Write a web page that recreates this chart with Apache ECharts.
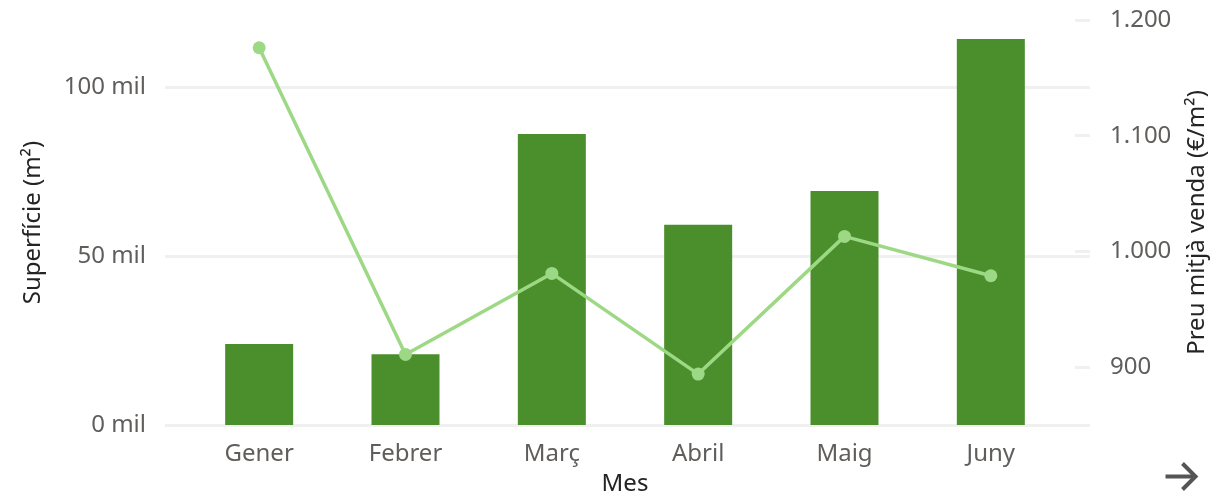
<!DOCTYPE html>
<html>
<head>
<meta charset="utf-8">
<script src="https://cdn.jsdelivr.net/npm/echarts@6/dist/echarts.min.js"></script>
<style>
  html, body { margin: 0; padding: 0; background: #fff; }
  #main { width: 1216px; height: 494px; }
</style>
</head>
<body>
<div id="main"></div>
<script>
// mesos i valors
var months = ['Gener', 'Febrer', 'Març', 'Abril', 'Maig', 'Juny'];
var surface = [24000, 21000, 86200, 59300, 69300, 114400];
var price = [1176, 911, 981, 894, 1013, 979];
var surfaceTicks = [0, 50000, 100000];
var priceTicks = [900, 1000, 1100, 1200];

var FONT = 'Noto Sans';
var LABEL = '#605e5c';
var TITLE = '#252423';
var GRID_LINE = '#f0f0f0';

function thousands(v) {
    return String(v).replace(/\B(?=(\d{3})+(?!\d))/g, '.');
}

var myChart = echarts.init(document.getElementById('main'));
myChart.setOption({
    animation: false,
    textStyle: { fontFamily: FONT },
    grid: [
        // eixos i línies de fons
        { left: 165, right: 126, top: 20, bottom: 69, outerBoundsMode: 'none', containLabel: false },
        // barres i línia
        { left: 186, right: 152, top: 20, bottom: 69, outerBoundsMode: 'none', containLabel: false }
    ],
    xAxis: [
        { type: 'value', gridIndex: 0, show: false, min: 0, max: 1 },
        {
            type: 'category', gridIndex: 1, data: months,
            axisLine: { show: false }, axisTick: { show: false },
            axisLabel: { color: LABEL, fontSize: 24, margin: 17, fontFamily: FONT },
            name: 'Mes', nameLocation: 'middle', nameGap: 47,
            nameTextStyle: { color: TITLE, fontSize: 24, fontFamily: FONT }
        }
    ],
    yAxis: [
        {
            type: 'value', gridIndex: 0, position: 'left',
            min: 0, max: 120000, interval: 50000,
            axisLine: { show: false }, axisTick: { show: false },
            splitLine: { show: true, showMaxLine: false, lineStyle: { color: GRID_LINE, width: 3 } },
            axisLabel: {
                color: LABEL, fontSize: 24, margin: 19, fontFamily: FONT,
                showMaxLabel: false,
                formatter: function (v) {
                    return surfaceTicks.indexOf(v) >= 0 ? (v / 1000) + ' mil' : '';
                }
            },
            name: 'Superfície (m²)', nameLocation: 'middle', nameGap: 120,
            nameTextStyle: { color: TITLE, fontSize: 24, fontFamily: FONT }
        },
        {
            type: 'value', gridIndex: 0, position: 'right',
            min: 850, max: 1200, splitNumber: 4,
            axisLine: { show: false },
            axisTick: { show: true, inside: true, length: 15, lineStyle: { color: GRID_LINE, width: 3 } },
            splitLine: { show: false },
            axisLabel: {
                color: LABEL, fontSize: 24, margin: 20, fontFamily: FONT,
                showMinLabel: false,
                formatter: function (v) {
                    return priceTicks.indexOf(v) >= 0 ? thousands(v) : '';
                }
            },
            name: 'Preu mitjà venda (€/m²)', nameLocation: 'middle', nameGap: 95,
            nameTextStyle: { color: TITLE, fontSize: 24, fontFamily: FONT }
        },
        { type: 'value', gridIndex: 1, show: false, min: 0, max: 120000 },
        { type: 'value', gridIndex: 1, show: false, min: 850, max: 1200 }
    ],
    series: [
        {
            name: 'Superfície (m²)', type: 'bar',
            xAxisIndex: 1, yAxisIndex: 2,
            barWidth: 68,
            itemStyle: { color: '#4a8f2c' },
            data: surface
        },
        {
            name: 'Preu mitjà venda (€/m²)', type: 'line',
            xAxisIndex: 1, yAxisIndex: 3,
            symbol: 'circle', symbolSize: 13,
            lineStyle: { color: '#9dd884', width: 3.5 },
            itemStyle: { color: '#9dd884' },
            data: price
        }
    ],
    graphic: [
        {
            type: 'group', right: 18, bottom: 2,
            children: [
                { type: 'line', shape: { x1: 0, y1: 13, x2: 30, y2: 13 }, style: { stroke: '#555', lineWidth: 4 } },
                { type: 'polyline', shape: { points: [[17, 0], [30, 13], [17, 26]] }, style: { stroke: '#555', lineWidth: 4, fill: null } }
            ]
        }
    ]
});
</script>
</body>
</html>
